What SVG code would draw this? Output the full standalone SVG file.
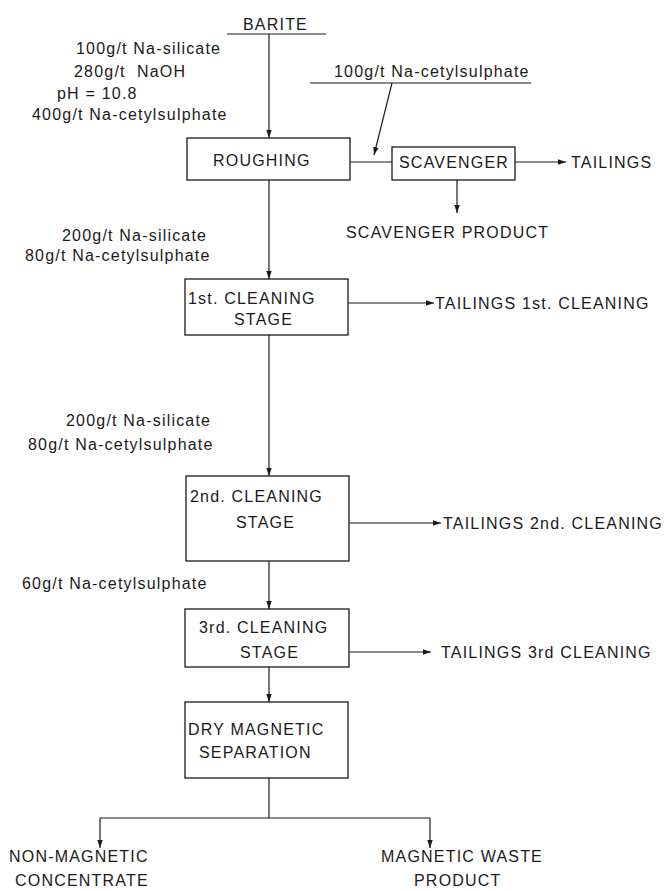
<svg xmlns="http://www.w3.org/2000/svg" width="666" height="891" viewBox="0 0 666 891">
<style>
text{font-family:"Liberation Sans",Arial,sans-serif;font-size:16px;letter-spacing:1.2px;fill:#1a1a1a;white-space:pre}
.box{fill:none;stroke:#1a1a1a;stroke-width:1.3}
.ln{fill:none;stroke:#1a1a1a;stroke-width:1.2}
.ar{fill:none;stroke:#1a1a1a;stroke-width:1.2;marker-end:url(#ah)}
</style>
<defs>
<marker id="ah" markerUnits="userSpaceOnUse" markerWidth="9" markerHeight="7" refX="8" refY="3.5" orient="auto">
<path d="M0,0.8 L8,3.5 L0,6.2 z" fill="#1a1a1a"/>
</marker>
</defs>
<rect width="666" height="891" fill="#fff"/>

<g id="connectors">
<line class="ln" x1="227" y1="34" x2="326" y2="34"/>
<line class="ar" x1="269" y1="34" x2="269" y2="138"/>
<line class="ln" x1="310" y1="83" x2="531" y2="83"/>
<line class="ar" x1="392" y1="83" x2="374" y2="155"/>
<line class="ln" x1="350" y1="162" x2="392" y2="162"/>
<line class="ar" x1="515" y1="162" x2="566" y2="162"/>
<line class="ar" x1="457" y1="180" x2="457" y2="213"/>
<line class="ar" x1="269" y1="180" x2="269" y2="279"/>
<line class="ar" x1="348" y1="303" x2="434" y2="303"/>
<line class="ar" x1="269" y1="335" x2="269" y2="476"/>
<line class="ar" x1="349" y1="523" x2="441" y2="523"/>
<line class="ar" x1="269" y1="561" x2="269" y2="609"/>
<line class="ar" x1="349" y1="652" x2="431" y2="652"/>
<line class="ar" x1="269" y1="667" x2="269" y2="702"/>
<line class="ln" x1="269" y1="778" x2="269" y2="818"/>
<line class="ln" x1="100" y1="818" x2="430" y2="818"/>
<line class="ar" x1="100" y1="818" x2="100" y2="848"/>
<line class="ar" x1="430" y1="818" x2="430" y2="848"/>
</g>

<g id="barite"><text x="243" y="30">BARITE</text></g>
<g id="reagents-roughing">
<text x="76" y="54">100g/t Na-silicate</text>
<text x="74" y="77">280g/t  NaOH</text>
<text x="57" y="99">pH = 10.8</text>
<text x="32" y="120">400g/t Na-cetylsulphate</text>
</g>
<g id="reagent-scavenger"><text x="334" y="77">100g/t Na-cetylsulphate</text></g>

<g id="roughing">
<rect class="box" x="187" y="138" width="163" height="42"/>
<text x="213" y="166">ROUGHING</text>
</g>
<g id="scavenger">
<rect class="box" x="392" y="147" width="123" height="33"/>
<text x="399" y="168">SCAVENGER</text>
</g>
<g id="tailings"><text x="571" y="168">TAILINGS</text></g>
<g id="scavenger-product"><text x="346" y="238">SCAVENGER PRODUCT</text></g>

<g id="reagents-1st">
<text x="62" y="241">200g/t Na-silicate</text>
<text x="25" y="261">80g/t Na-cetylsulphate</text>
</g>
<g id="cleaning1">
<rect class="box" x="185" y="279" width="163" height="56"/>
<text x="188" y="304">1st. CLEANING</text>
<text x="234" y="325">STAGE</text>
</g>
<g id="tailings1"><text x="435" y="309">TAILINGS 1st. CLEANING</text></g>

<g id="reagents-2nd">
<text x="66" y="426">200g/t Na-silicate</text>
<text x="28" y="450">80g/t Na-cetylsulphate</text>
</g>
<g id="cleaning2">
<rect class="box" x="186" y="476" width="163" height="85"/>
<text x="190" y="502">2nd. CLEANING</text>
<text x="236" y="528">STAGE</text>
</g>
<g id="tailings2"><text x="443" y="529">TAILINGS 2nd. CLEANING</text></g>

<g id="reagents-3rd"><text x="22" y="589">60g/t Na-cetylsulphate</text></g>
<g id="cleaning3">
<rect class="box" x="185" y="609" width="164" height="58"/>
<text x="199" y="633">3rd. CLEANING</text>
<text x="240" y="658">STAGE</text>
</g>
<g id="tailings3"><text x="441" y="658">TAILINGS 3rd CLEANING</text></g>

<g id="magnetic">
<rect class="box" x="185" y="702" width="163" height="76"/>
<text x="188" y="735">DRY MAGNETIC</text>
<text x="199" y="758">SEPARATION</text>
</g>
<g id="nonmagnetic">
<text x="9" y="862">NON-MAGNETIC</text>
<text x="15" y="886">CONCENTRATE</text>
</g>
<g id="magwaste">
<text x="381" y="862">MAGNETIC WASTE</text>
<text x="414" y="886">PRODUCT</text>
</g>
</svg>
